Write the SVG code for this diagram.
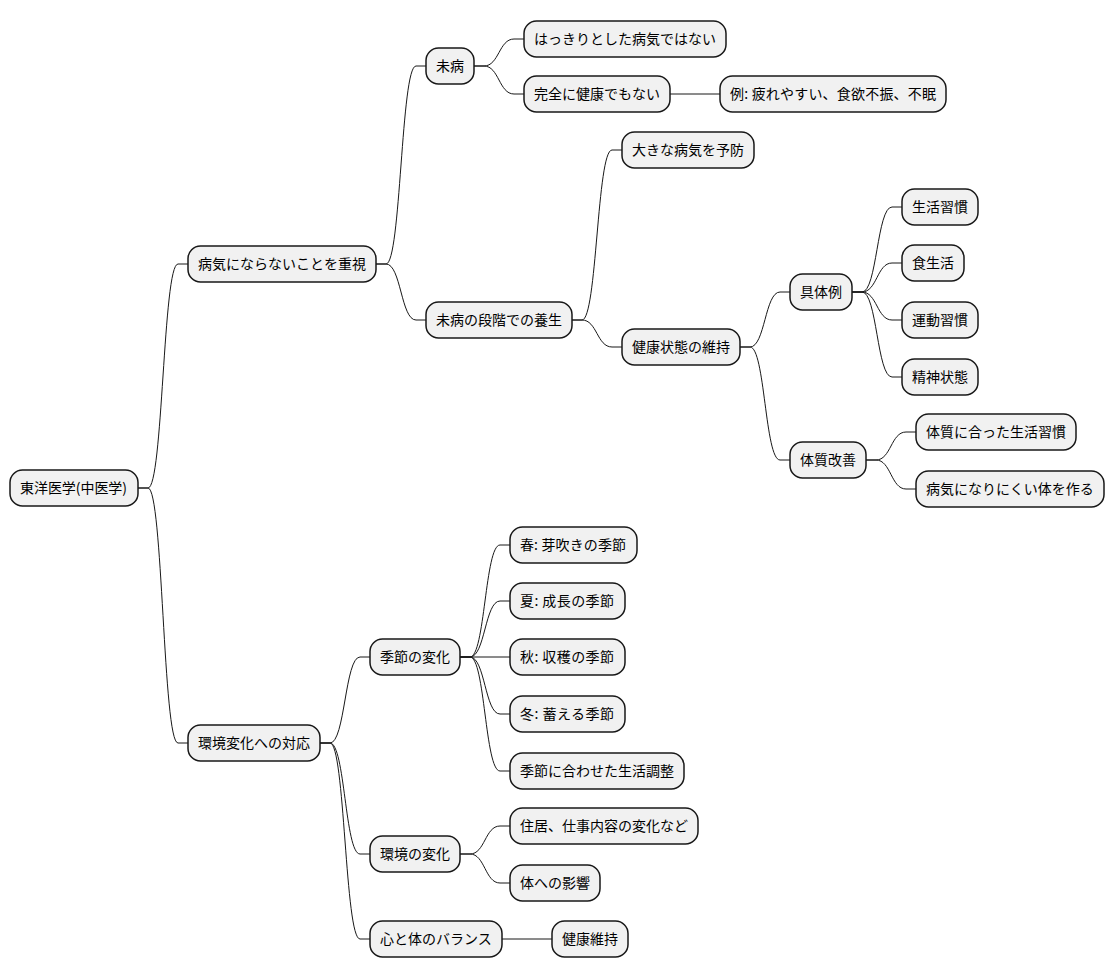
<svg xmlns="http://www.w3.org/2000/svg" width="1115" height="978" viewBox="0 0 1115 978">
<style>
.n rect{fill:#F1F1F1;stroke:#181818;stroke-width:1.5}
.n text{font-family:"Noto Sans CJK JP","Noto Sans",sans-serif;font-size:14px;fill:#000}
#links path{fill:none;stroke:#181818;stroke-width:1}
</style>
<rect width="1115" height="978" fill="#FFFFFF"/>
<g id="links">
<path d="M138,488 L148,488 C163,488 163,264 178,264 L188,264"/>
<path d="M138,488 L148,488 C163,488 163,743 178,743 L188,743"/>
<path d="M376,264 L386,264 C401,264 401,66 416,66 L426,66"/>
<path d="M376,264 L386,264 C401,264 401,320 416,320 L426,320"/>
<path d="M474,66 L484,66 C499,66 499,39 514,39 L524,39"/>
<path d="M474,66 L484,66 C499,66 499,94 514,94 L524,94"/>
<path d="M670,94 L720,94"/>
<path d="M572,320 L582,320 C597,320 597,150 612,150 L622,150"/>
<path d="M572,320 L582,320 C597,320 597,347 612,347 L622,347"/>
<path d="M740,347 L750,347 C765,347 765,292 780,292 L790,292"/>
<path d="M740,347 L750,347 C765,347 765,460 780,460 L790,460"/>
<path d="M852,292 L862,292 C877,292 877,207 892,207 L902,207"/>
<path d="M852,292 L862,292 C877,292 877,263 892,263 L902,263"/>
<path d="M852,292 L862,292 C877,292 877,320 892,320 L902,320"/>
<path d="M852,292 L862,292 C877,292 877,377 892,377 L902,377"/>
<path d="M866,460 L876,460 C891,460 891,432 906,432 L916,432"/>
<path d="M866,460 L876,460 C891,460 891,489 906,489 L916,489"/>
<path d="M320,743 L330,743 C345,743 345,657 360,657 L370,657"/>
<path d="M320,743 L330,743 C345,743 345,854 360,854 L370,854"/>
<path d="M320,743 L330,743 C345,743 345,939 360,939 L370,939"/>
<path d="M460,657 L470,657 C485,657 485,545 500,545 L510,545"/>
<path d="M460,657 L470,657 C485,657 485,601 500,601 L510,601"/>
<path d="M460,657 L510,657"/>
<path d="M460,657 L470,657 C485,657 485,714 500,714 L510,714"/>
<path d="M460,657 L470,657 C485,657 485,771 500,771 L510,771"/>
<path d="M460,854 L470,854 C485,854 485,826 500,826 L510,826"/>
<path d="M460,854 L470,854 C485,854 485,883 500,883 L510,883"/>
<path d="M502,939 L552,939"/>
</g>
<g id="root" class="n"><rect x="10" y="470" width="128" height="36" rx="12.5"/><text x="20" y="493" textLength="107">東洋医学(中医学)</text></g>
<g id="n1" class="n"><rect x="188" y="246" width="188" height="36" rx="12.5"/><text x="198" y="269">病気にならないことを重視</text></g>
<g id="n2" class="n"><rect x="188" y="725" width="132" height="36" rx="12.5"/><text x="198" y="748">環境変化への対応</text></g>
<g id="n11" class="n"><rect x="426" y="48" width="48" height="36" rx="12.5"/><text x="436" y="71">未病</text></g>
<g id="n12" class="n"><rect x="426" y="302" width="146" height="36" rx="12.5"/><text x="436" y="325">未病の段階での養生</text></g>
<g id="n111" class="n"><rect x="524" y="21" width="202" height="36" rx="12.5"/><text x="534" y="44">はっきりとした病気ではない</text></g>
<g id="n112" class="n"><rect x="524" y="76" width="146" height="36" rx="12.5"/><text x="534" y="99">完全に健康でもない</text></g>
<g id="n1121" class="n"><rect x="720" y="76" width="226" height="36" rx="12.5"/><text x="730" y="99" textLength="206">例: 疲れやすい、食欲不振、不眠</text></g>
<g id="n121" class="n"><rect x="622" y="132" width="132" height="36" rx="12.5"/><text x="632" y="155">大きな病気を予防</text></g>
<g id="n122" class="n"><rect x="622" y="329" width="118" height="36" rx="12.5"/><text x="632" y="352">健康状態の維持</text></g>
<g id="n1221" class="n"><rect x="790" y="274" width="62" height="36" rx="12.5"/><text x="800" y="297">具体例</text></g>
<g id="n12211" class="n"><rect x="902" y="189" width="76" height="36" rx="12.5"/><text x="912" y="212">生活習慣</text></g>
<g id="n12212" class="n"><rect x="902" y="245" width="62" height="36" rx="12.5"/><text x="912" y="268">食生活</text></g>
<g id="n12213" class="n"><rect x="902" y="302" width="76" height="36" rx="12.5"/><text x="912" y="325">運動習慣</text></g>
<g id="n12214" class="n"><rect x="902" y="359" width="76" height="36" rx="12.5"/><text x="912" y="382">精神状態</text></g>
<g id="n1222" class="n"><rect x="790" y="442" width="76" height="36" rx="12.5"/><text x="800" y="465">体質改善</text></g>
<g id="n12221" class="n"><rect x="916" y="414" width="160" height="36" rx="12.5"/><text x="926" y="437">体質に合った生活習慣</text></g>
<g id="n12222" class="n"><rect x="916" y="471" width="188" height="36" rx="12.5"/><text x="926" y="494">病気になりにくい体を作る</text></g>
<g id="n21" class="n"><rect x="370" y="639" width="90" height="36" rx="12.5"/><text x="380" y="662">季節の変化</text></g>
<g id="n211" class="n"><rect x="510" y="527" width="127" height="36" rx="12.5"/><text x="520" y="550" textLength="106">春: 芽吹きの季節</text></g>
<g id="n212" class="n"><rect x="510" y="583" width="115" height="36" rx="12.5"/><text x="520" y="606" textLength="94">夏: 成長の季節</text></g>
<g id="n213" class="n"><rect x="510" y="639" width="115" height="36" rx="12.5"/><text x="520" y="662" textLength="94">秋: 収穫の季節</text></g>
<g id="n214" class="n"><rect x="510" y="696" width="115" height="36" rx="12.5"/><text x="520" y="719" textLength="94">冬: 蓄える季節</text></g>
<g id="n215" class="n"><rect x="510" y="753" width="174" height="36" rx="12.5"/><text x="520" y="776">季節に合わせた生活調整</text></g>
<g id="n22" class="n"><rect x="370" y="836" width="90" height="36" rx="12.5"/><text x="380" y="859">環境の変化</text></g>
<g id="n221" class="n"><rect x="510" y="808" width="188" height="36" rx="12.5"/><text x="520" y="831">住居、仕事内容の変化など</text></g>
<g id="n222" class="n"><rect x="510" y="865" width="90" height="36" rx="12.5"/><text x="520" y="888">体への影響</text></g>
<g id="n23" class="n"><rect x="370" y="921" width="132" height="36" rx="12.5"/><text x="380" y="944">心と体のバランス</text></g>
<g id="n231" class="n"><rect x="552" y="921" width="76" height="36" rx="12.5"/><text x="562" y="944">健康維持</text></g>
</svg>
